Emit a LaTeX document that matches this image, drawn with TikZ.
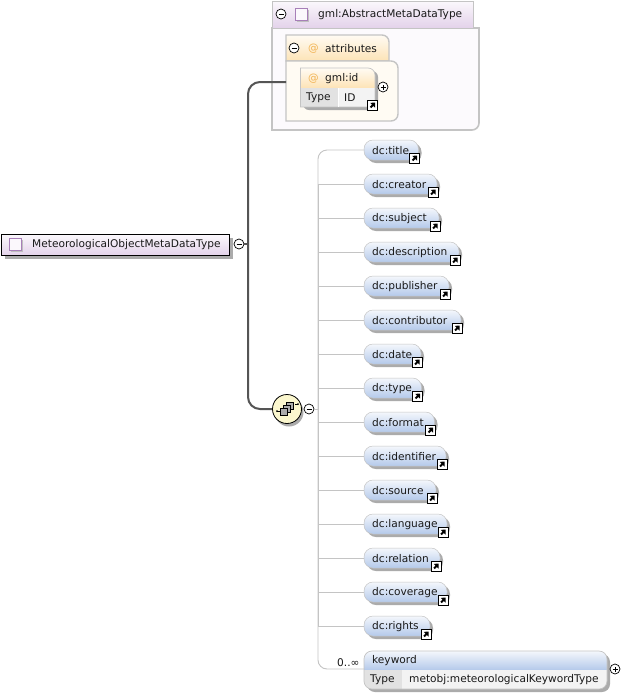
\documentclass[tikz,border=0pt]{standalone}
\usepackage{fontspec}
\setmainfont{DejaVu Sans}
\usetikzlibrary{shadows}
\definecolor{bluetop}{HTML}{F4F7FC}
\definecolor{bluebot}{HTML}{B4C9EA}
\definecolor{pinktop}{HTML}{FBF8FC}
\definecolor{pinkbot}{HTML}{E3D2EA}
\definecolor{peachtop}{HTML}{FFFBF3}
\definecolor{peachbot}{HTML}{FDE3B6}
\definecolor{edgegray}{HTML}{C4C4C4}
\definecolor{shadowgray}{HTML}{ABABAB}
\definecolor{spine}{HTML}{555555}
\definecolor{cellA}{HTML}{E2E2E2}
\definecolor{cellB}{HTML}{F3F3F3}
\definecolor{squarepurple}{HTML}{A77FB8}
\definecolor{seqyellow}{HTML}{FBF7CE}
\definecolor{atcolor}{HTML}{F2B455}
\tikzset{
  x=1pt,y=-1pt,
  lbl/.style={font=\fontsize{10.6}{12}\selectfont,inner sep=0pt,text=black!90,anchor=west,yshift=-1pt},
  elembox/.style={anchor=west,minimum height=20pt,inner sep=0pt,outer sep=0pt,rounded corners=9pt,
    draw=edgegray,line width=.5pt,top color=bluetop,bottom color=bluebot,
    drop shadow={shadow xshift=3pt,shadow yshift=-3pt,fill=shadowgray,opacity=1}},
  linkicon/.style={draw=black,line width=1pt,fill=white,minimum size=10pt,inner sep=0pt,
    path picture={
      \fill[black] ([xshift=7.5pt,yshift=7.5pt]path picture bounding box.south west) -- ++(0,-5pt) -- ++(-1.6pt,1.6pt) -- ++(-2.2pt,-2.2pt) -- ++(-1.4pt,1.4pt) -- ++(2.2pt,2.2pt) -- ++(-1.6pt,1.6pt) -- cycle;
    }},
  pmbase/.style={circle,draw=black,line width=.7pt,fill=white,minimum size=10pt,inner sep=0pt},
  pmminus/.style={pmbase,path picture={\draw[black,line width=.7pt] ([xshift=-2.5pt]path picture bounding box.center) -- ([xshift=2.5pt]path picture bounding box.center);}},
  pmplus/.style={pmbase,path picture={\draw[black,line width=.7pt] ([xshift=-2.5pt]path picture bounding box.center) -- ([xshift=2.5pt]path picture bounding box.center) ([yshift=-2.5pt]path picture bounding box.center) -- ([yshift=2.5pt]path picture bounding box.center);}},
  typesq/.style={draw=squarepurple,line width=.8pt,fill=pinktop,minimum size=12pt,inner sep=0pt,
    drop shadow={shadow xshift=1pt,shadow yshift=-1pt,fill=black!25,opacity=1}},
  thinconn/.style={draw=edgegray,line width=.9pt},
  thinround/.style={thinconn,rounded corners=9pt},
  thickconn/.style={draw=spine,line width=2pt},
  thickround/.style={thickconn,rounded corners=12pt},
}
\newcommand{\elem}[4]{% name, y, icon centre x, label
  \pgfmathsetlengthmacro{\elw}{#3+4-364}
  \node[elembox,minimum width=\elw] (#1) at (364,#2) {};
  \node[lbl] (#1t) at (372,#2) {#4};
  \node[linkicon] (#1i) at (#3,#2+8) {};
}
\begin{document}
\begin{tikzpicture}
\useasboundingbox (0,0) rectangle (623,694);
\fill[white] (0,0) rectangle (623,694);

% main type
\node[anchor=north west,minimum width=228pt,minimum height=21pt,inner sep=0pt,draw=black,line width=1pt,
  top color=pinktop,bottom color=pinkbot,
  drop shadow={shadow xshift=3pt,shadow yshift=-3pt,fill=shadowgray,opacity=1}] (main) at (1,234) {};
\node[typesq] (mainsq) at (15.5,244.5) {};
\node[lbl] (maint) at (32,244) {MeteorologicalObjectMetaDataType};
\node[pmminus] (mainminus) at (239,244) {};

% base type panel
\draw[edgegray,line width=1.6pt,fill=pinktop!70!white,rounded corners=0pt]
  (272,28) -- (479,28) -- (479,122) [rounded corners=7pt] -- (479,130) [rounded corners=0pt] -- (272,130) -- cycle;
\node[anchor=north west,minimum width=201pt,minimum height=27pt,inner sep=0pt,draw=edgegray,line width=1pt,
  top color=pinktop,bottom color=pinkbot] (basehead) at (272,0.5) {};
\node[pmminus] (baseminus) at (281,14) {};
\node[typesq] (basesq) at (301.5,14.5) {};
\node[lbl] (baset) at (318,14) {gml:AbstractMetaDataType};

% attributes group
\shade[top color=peachtop,bottom color=peachbot,draw=edgegray,line width=1.4pt]
  (286,61) -- (286,35) [rounded corners=7pt] -- (389,35) [rounded corners=0pt] -- (389,61) -- cycle;
\draw[edgegray,line width=1.4pt,fill=peachtop,sharp corners]
  (286,61) -- (386,61) [rounded corners=7pt] -- (398,61) -- (398,121) [rounded corners=0pt] -- (286,121) -- cycle;
\node[pmminus] (attrminus) at (294,48) {};
\node[lbl,text=atcolor] (attrat) at (308,48) {@};
\node[lbl] (attrt) at (325,48) {attributes};
\coordinate (attrbox) at (286,82);

% gml:id
\fill[shadowgray,rounded corners=6pt] (303,71) -- (378,71) -- (378,110) -- (303,110) -- cycle;
\shade[top color=peachtop,bottom color=peachbot]
  (300.5,88) -- (300.5,68) [rounded corners=7pt] -- (375,68) [rounded corners=0pt] -- (375,88) -- cycle;
\fill[cellA] (300.5,88) rectangle (338,107);
\fill[cellB] (338,88) rectangle (375,107);
\draw[edgegray,line width=.7pt] (300.5,107) -- (300.5,68) [rounded corners=7pt] -- (375,68) [rounded corners=0pt] -- (375,107) -- cycle;
\draw[white,line width=.8pt] (338,88) -- (338,107);
\node[lbl,text=atcolor] (idat) at (308,78) {@};
\node[lbl] (idt) at (325,78) {gml:id};
\node[lbl] (idtype) at (306,97) {Type};
\node[lbl] (idval) at (344,97) {ID};
\node[linkicon] (idicon) at (372.5,105) {};
\node[pmplus] (idplus) at (383,87) {};

% thick connectors
\node[circle,minimum size=29pt,inner sep=0pt,draw=black,line width=.8pt,fill=seqyellow,
  drop shadow={shadow xshift=2pt,shadow yshift=-3pt,fill=shadowgray,opacity=1}] (seq) at (287,409) {};
\coordinate (hub) at (248,244);
\draw[thickconn] (mainminus.east) -- (hub);
\draw[thickround] (hub) |- (attrbox);
\draw[thickround] (hub) |- (seq.west);

% sequence symbol
\draw[black,line width=.7pt] (277,411) -- (280,411) (295,404) -- (298,404);
\foreach \dx/\dy in {3/-6,0/-3,-3/0} {
  \draw[black,line width=.6pt,fill=gray!65] (283+\dx,408+\dy) rectangle +(7,7);
}
\fill[black] (277,411) circle (1pt) (298,404) circle (1pt);
\node[pmminus] (seqminus) at (309,409) {};
\coordinate (hubb) at (318,409);

% elements
\elem{title}{150}{414.5}{dc:title}
\elem{creator}{184}{433}{dc:creator}
\elem{subject}{218}{435}{dc:subject}
\elem{description}{252}{455}{dc:description}
\elem{publisher}{286}{445}{dc:publisher}
\elem{contributor}{320}{457}{dc:contributor}
\elem{date}{354}{417}{dc:date}
\elem{type}{388}{417.5}{dc:type}
\elem{format}{422}{430.5}{dc:format}
\elem{identifier}{456}{442}{dc:identifier}
\elem{source}{490}{432}{dc:source}
\elem{language}{524}{443}{dc:language}
\elem{relation}{558}{436}{dc:relation}
\elem{coverage}{592}{443}{dc:coverage}
\elem{rights}{626}{426}{dc:rights}

% keyword
\fill[shadowgray,rounded corners=8pt] (367,654) rectangle (610,692);
\shade[top color=bluetop,bottom color=bluebot,rounded corners=0pt]
  (364,670) [rounded corners=8pt] -- (364,651) -- (607,651) [rounded corners=0pt] -- (607,670) -- cycle;
\fill[cellA,rounded corners=0pt] (364,670) -- (402,670) -- (402,689) [rounded corners=8pt] -- (364,689) [rounded corners=0pt] -- cycle;
\fill[cellB,rounded corners=0pt] (402,670) -- (607,670) [rounded corners=8pt] -- (607,689) [rounded corners=0pt] -- (402,689) -- cycle;
\draw[edgegray,line width=.7pt,rounded corners=8pt] (364,651) rectangle (607,689);
\coordinate (keywest) at (364,669);

% sequence connectors
\draw[thinconn] (seqminus.east) -- (hubb);
\draw[thinround] (hubb) |- (title.west);
\draw[thinround] (hubb) |- (keywest);
\foreach \n in {creator,subject,description,publisher,contributor,date,type,format,identifier,source,language,relation,coverage,rights}
  \draw[thinconn] (hubb) |- (\n.west);

\node[lbl] (keyt) at (372,660) {keyword};
\node[lbl] (keytype) at (370,679) {Type};
\node[lbl] (keyval) at (409,679) {metobj:meteorologicalKeywordType};
\node[lbl] (keyocc) at (337,662) {0..∞};
\node[pmplus] (keyplus) at (615,669) {};
\end{tikzpicture}
\end{document}
